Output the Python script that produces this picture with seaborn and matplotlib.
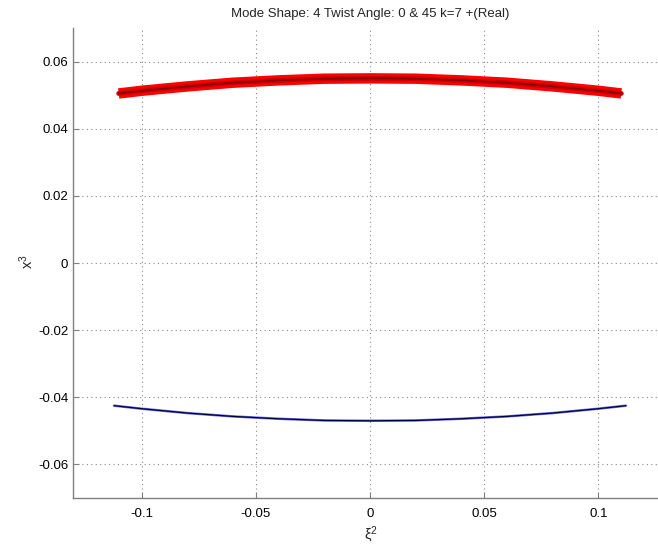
import numpy as np
import pandas as pd
import matplotlib
matplotlib.use("Agg")
import matplotlib.pyplot as plt
import seaborn as sns

# data
xi_red = [-0.110, -0.100, -0.080, -0.060, -0.040, -0.020, 0.000, 0.020, 0.040, 0.060, 0.080, 0.100, 0.110]
chi_red = [0.0505, 0.0513, 0.0526, 0.0537, 0.0544, 0.0549, 0.0550, 0.0549, 0.0544, 0.0537, 0.0526, 0.0513, 0.0505]
xi_blue = [-0.112, -0.100, -0.080, -0.060, -0.040, -0.020, 0.000, 0.020, 0.040, 0.060, 0.080, 0.100, 0.112]
chi_blue = [-0.0425, -0.0434, -0.0447, -0.0457, -0.0464, -0.0469, -0.0470, -0.0469, -0.0464, -0.0457, -0.0447, -0.0434, -0.0425]
xticks = [-0.1, -0.05, 0, 0.05, 0.1]
xtick_labels = ["-0.1", "-0.05", "0", "0.05", "0.1"]
yticks = [-0.06, -0.04, -0.02, 0, 0.02, 0.04, 0.06]
ytick_labels = ["-0.06", "-0.04", "-0.02", "0", "0.02", "0.04", "0.06"]
title = "Mode Shape: 4 Twist Angle: 0 & 45 k=7 +(Real)"

sns.set_style("white")
plt.rcParams["font.family"] = ["Liberation Sans", "DejaVu Sans"]
plt.rcParams["mathtext.default"] = "regular"

fig = plt.figure(figsize=(6.58, 5.44), dpi=100)
ax = fig.add_axes([73 / 658, 1 - 498 / 544, (667 - 73) / 658, (498 - 28) / 544])

red = pd.DataFrame({"xi": xi_red, "chi": chi_red})
blue = pd.DataFrame({"xi": xi_blue, "chi": chi_blue})

sns.lineplot(data=red, x="xi", y="chi", ax=ax, color="#ff0000", lw=7.5, solid_capstyle="butt", sort=False)
sns.lineplot(data=red, x="xi", y="chi", ax=ax, color="#d00000", lw=3.5, sort=False)
sns.lineplot(data=red, x="xi", y="chi", ax=ax, color="#8a0000", lw=1.2, sort=False)
sns.lineplot(data=blue, x="xi", y="chi", ax=ax, color="#7070e0", lw=1.8, sort=False)
sns.lineplot(data=blue, x="xi", y="chi", ax=ax, color="#000040", lw=0.9, sort=False)

ax.set_xlim(-0.13, 0.13)
ax.set_ylim(-0.07, 0.07)
ax.set_xticks(xticks)
ax.set_xticklabels(xtick_labels)
ax.set_yticks(yticks)
ax.set_yticklabels(ytick_labels)
ax.grid(True, linestyle=(0, (1, 3)), color="#888888", lw=0.8)
for s in ["top", "right"]:
    ax.spines[s].set_visible(False)
for s in ["left", "bottom"]:
    ax.spines[s].set_color("#808080")
    ax.spines[s].set_linewidth(1.0)
ax.tick_params(direction="in", length=4, color="#808080", labelsize=9.5, labelcolor="black", top=False, bottom=True, left=True)
ax.tick_params(axis="x", pad=7)
ax.set_xlabel("ξ$^2$", fontsize=10.5)
ax.set_ylabel("x$^3$", fontsize=10.5)
ax.xaxis.set_label_coords((371 - 73) / 594, -(535 - 498) / 470)
ax.yaxis.set_label_coords(-(73 - 27) / 594, (498 - 262) / 470)
ax.xaxis.label.set_va("center")
ax.yaxis.label.set_va("center")
ax.set_title(title, fontsize=9.5, pad=8)
fig.savefig("out.png", dpi=100)
